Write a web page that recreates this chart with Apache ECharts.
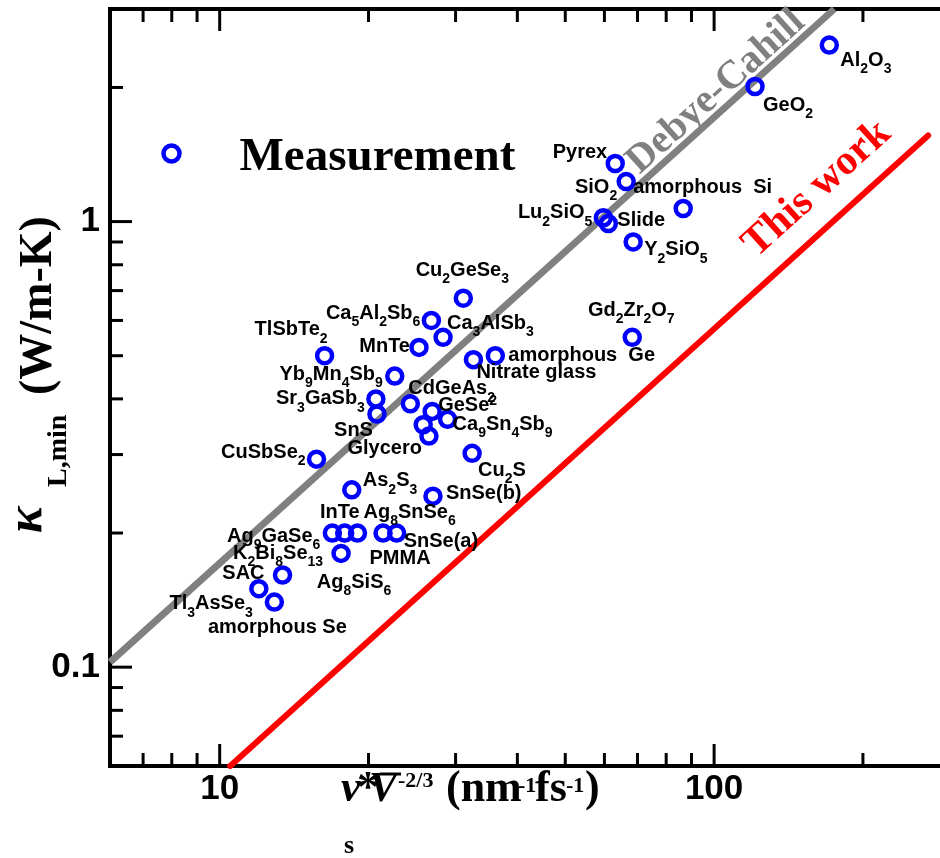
<!DOCTYPE html>
<html>
<head>
<meta charset="utf-8">
<title>Minimum lattice thermal conductivity</title>
<script src="https://cdn.jsdelivr.net/npm/echarts@6.0.0/dist/echarts.min.js"></script>
<style>
    html, body { margin: 0; padding: 0; background: #fff; }
    #chart { width: 940px; height: 858px; }
</style>
</head>
<body>
<div id="chart"></div>
<script>
// sample names: "_n" = subscript, "^n" = superscript, '' = no label
var names = [
    'Al_2O_3', 'GeO_2', 'Pyrex', 'SiO_2', 'amorphous  Si', 'Lu_2SiO_5', 'Slide', 'Y_2SiO_5', 'Gd_2Zr_2O_7',
    'Cu_2GeSe_3', 'Ca_5Al_2Sb_6', 'Ca_3AlSb_3', 'MnTe', 'TlSbTe_2', 'Nitrate glass', 'amorphous  Ge',
    'Yb_9Mn_4Sb_9', 'Sr_3GaSb_3', 'SnS', 'CdGeAs_2', 'GeSe^2', 'Ca_9Sn_4Sb_9', '', 'Glycero',
    'CuSbSe_2', 'Cu_2S', 'As_2S_3', 'SnSe(b)', 'Ag_9GaSe_6', 'InTe', 'Ag_8SnSe_6', 'PMMA', 'SnSe(a)',
    'K_2Bi_8Se_13', 'SAC', 'Tl_3AsSe_3', 'amorphous Se'
];
// v_s * V^-2/3 (nm^-1 fs^-1)
var vs = [
    171, 121, 63.1, 66.4, 86.6, 59.7, 61.1, 68.6, 68.3,
    31.1, 26.8, 28.3, 25.3, 16.3, 32.6, 36.1,
    22.6, 20.7, 20.8, 24.3, 26.9, 28.9, 25.8, 26.5,
    15.7, 32.4, 18.5, 27.0, 16.9, 17.9, 19.0, 21.4, 22.8,
    17.6, 13.4, 12.0, 12.9
];
// kappa_L,min (W/m-K)
var kappa = [
    2.49, 2.01, 1.35, 1.23, 1.07, 1.02, 0.99, 0.90, 0.55,
    0.673, 0.60, 0.55, 0.522, 0.50, 0.49, 0.50,
    0.45, 0.40, 0.37, 0.39, 0.375, 0.36, 0.35, 0.33,
    0.293, 0.302, 0.25, 0.242, 0.20, 0.20, 0.20, 0.20, 0.20,
    0.18, 0.161, 0.150, 0.14
];
// extra label sharing a marker with another sample
var extraLabel = {name: 'Ag_8SiS_6', at: 'K_2Bi_8Se_13'};

var debyeCahill = [[6, 0.1026], [175, 3]];
var thisWork = [[10.5, 0.06], [271, 1.56]];

var xRange = [6, 300];
var yRange = [0.06, 3];
var xMajorTicks = [10, 100];
var xMinorTicks = [7, 8, 9, 20, 30, 40, 50, 60, 70, 80, 90, 200];
var yMajorTicks = [0.1, 1];
var yMinorTicks = [0.07, 0.08, 0.09, 0.2, 0.3, 0.4, 0.5, 0.6, 0.7, 0.8, 0.9, 2];

// label placement: [dx, dy, align] from marker centre
var labelPos = {
    'Al_2O_3': [11, 15, 'left'], 'GeO_2': [8, 19, 'left'], 'Pyrex': [-8, -11, 'right'],
    'SiO_2': [-9, 6, 'right'], 'amorphous  Si': [-50, -21, 'left'], 'Lu_2SiO_5': [-11, -5, 'right'],
    'Slide': [9, -3, 'left'], 'Y_2SiO_5': [11, 8, 'left'], 'Gd_2Zr_2O_7': [-1, -27, 'center'],
    'Cu_2GeSe_3': [-1, -28, 'center'], 'Ca_5Al_2Sb_6': [-11, -7, 'right'], 'Ca_3AlSb_3': [4, -14, 'left'],
    'MnTe': [-9, -1, 'right'], 'TlSbTe_2': [3, -26, 'right'], 'Nitrate glass': [3, 13, 'left'],
    'amorphous  Ge': [13, 0, 'left'], 'Yb_9Mn_4Sb_9': [-12, -2, 'right'], 'Sr_3GaSb_3': [-11, 0, 'right'],
    'SnS': [-4, 17, 'right'], 'CdGeAs_2': [-2, -15, 'left'], 'GeSe^2': [6, -6, 'left'],
    'Ca_9Sn_4Sb_9': [5, 5, 'left'], 'Glycero': [-7, 12, 'right'], 'CuSbSe_2': [-11, -7, 'right'],
    'Cu_2S': [6, 17, 'left'], 'As_2S_3': [11, -9, 'left'], 'SnSe(b)': [13, -3, 'left'],
    'Ag_9GaSe_6': [-12, 3, 'right'], 'InTe': [-5, -21, 'center'], 'Ag_8SnSe_6': [6, -21, 'left'],
    'PMMA': [17, 25, 'center'], 'SnSe(a)': [7, 8, 'left'], 'K_2Bi_8Se_13': [-18, 0, 'right'],
    'SAC': [-18, -2, 'right'], 'Tl_3AsSe_3': [-6, 15, 'right'], 'amorphous Se': [3, 25, 'center'],
    'Ag_8SiS_6': [13, 29, 'center']
};

var SANS = 'Liberation Sans';
var SERIF = 'Liberation Serif';

function toRich(s) {
    return s.replace(/_(\d+)|\^(\d+)|([^_^]+)/g, function (m, sub, sup, txt) {
        if (sub) return '{s|' + sub + '}';
        if (sup) return '{p|' + sup + '}';
        return '{n|' + txt + '}';
    });
}

var richLabel = {
    n: {fontFamily: SANS, fontWeight: 'bold', fontSize: 20, lineHeight: 22, color: '#000'},
    s: {fontFamily: SANS, fontWeight: 'bold', fontSize: 14, lineHeight: 22, color: '#000', padding: [18, 0, 0, 0]},
    p: {fontFamily: SANS, fontWeight: 'bold', fontSize: 14, lineHeight: 22, color: '#000', padding: [0, 0, 8, 0]}
};

function labelOpt(name) {
    var p = labelPos[name];
    return {
        show: true, position: 'inside', offset: [p[0], p[1]], align: p[2],
        verticalAlign: 'middle', formatter: toRich(name), rich: richLabel
    };
}

function logLabel(v) {
    var e = Math.round(Math.log10(v));
    if (Math.abs(Math.log10(v) - e) > 1e-6) return '';
    return e >= 0 ? String(Math.pow(10, e)) : Math.pow(10, e).toFixed(-e);
}

function tickItems() {
    var out = [];
    xMajorTicks.forEach(function (v) { out.push([v, yRange[0], 22, 0], [v, yRange[1], 22, 1]); });
    xMinorTicks.forEach(function (v) { out.push([v, yRange[0], 13, 0], [v, yRange[1], 13, 1]); });
    yMajorTicks.forEach(function (v) { out.push([xRange[0], v, 22, 2]); });
    yMinorTicks.forEach(function (v) { out.push([xRange[0], v, 13, 2]); });
    return out;
}

var scatterData = names.map(function (n, i) {
    var item = {name: n, value: [vs[i], kappa[i]]};
    item.label = n ? labelOpt(n) : {show: false};
    return item;
});
var anchor = names.indexOf(extraLabel.at);

function txt(x, y, text, size, opts) {
    opts = opts || {};
    return {
        type: 'text', x: x, y: y, silent: true,
        style: {
            text: text, fontFamily: SERIF, fontWeight: 'bold', fontSize: size,
            fontStyle: opts.italic ? 'italic' : 'normal', fill: opts.color || '#000',
            align: opts.align || 'left', verticalAlign: 'middle'
        }
    };
}

var chart = echarts.init(document.getElementById('chart'), null, {renderer: 'canvas'});

var option = {
    animation: false,
    backgroundColor: '#fff',
    grid: {
        left: 110, top: 9, right: -10, bottom: 92,
        show: true, borderColor: '#000', borderWidth: 4, backgroundColor: 'transparent',
        containLabel: false, outerBoundsMode: 'none'
    },
    legend: {
        data: ['Measurement'], left: 161, top: 134, padding: 0, itemWidth: 16, itemHeight: 16,
        selectedMode: false,
        itemStyle: {color: 'none', borderColor: '#0000ff', borderWidth: 4.5, opacity: 1},
        formatter: function (name) { return '{g|}{t|' + name + '}'; },
        textStyle: {
            rich: {
                g: {width: 55},
                t: {fontFamily: SERIF, fontWeight: 'bold', fontSize: 47, color: '#000', padding: [8, 0, 0, 0]}
            }
        }
    },
    xAxis: {
        type: 'log', logBase: 10, min: xRange[0], max: xRange[1],
        axisLine: {show: false}, axisTick: {show: false}, splitLine: {show: false},
        minorTick: {show: false}, minorSplitLine: {show: false},
        axisLabel: {
            formatter: logLabel, margin: 6, color: '#000',
            fontFamily: SANS, fontWeight: 'bold', fontSize: 35,
            showMinLabel: false, showMaxLabel: false
        }
    },
    yAxis: {
        type: 'log', logBase: 10, min: yRange[0], max: yRange[1],
        axisLine: {show: false}, axisTick: {show: false}, splitLine: {show: false},
        minorTick: {show: false}, minorSplitLine: {show: false},
        axisLabel: {
            formatter: logLabel, margin: 10, color: '#000',
            fontFamily: SANS, fontWeight: 'bold', fontSize: 35,
            showMinLabel: false, showMaxLabel: false
        }
    },
    series: [
        {
            name: 'Debye-Cahill', type: 'line', data: debyeCahill, symbol: 'none', silent: true,
            lineStyle: {color: '#808080', width: 7, opacity: 1}, z: 2
        },
        {
            name: 'This work', type: 'line', data: thisWork, symbol: 'none', silent: true,
            lineStyle: {color: '#ff0000', width: 6, cap: 'round', opacity: 1}, z: 2
        },
        {
            name: 'Measurement', type: 'scatter', data: scatterData, symbol: 'circle', symbolSize: 15,
            silent: true, z: 3,
            itemStyle: {color: 'none', borderColor: '#0000ff', borderWidth: 4.5, opacity: 1},
            label: {show: false, rich: richLabel},
            markPoint: {
                symbol: 'circle', symbolSize: 0, silent: true,
                data: [{
                    name: extraLabel.name, coord: [vs[anchor], kappa[anchor]],
                    label: labelOpt(extraLabel.name)
                }]
            }
        },
        {
            name: 'ticks', type: 'custom', data: tickItems(), silent: true, z: 5, clip: false,
            encode: {x: 0, y: 1},
            renderItem: function (params, api) {
                var p = api.coord([api.value(0), api.value(1)]);
                var len = api.value(2), dir = api.value(3);
                var x2 = p[0], y2 = p[1];
                if (dir === 0) y2 -= len;
                else if (dir === 1) y2 += len;
                else x2 += len;
                return {
                    type: 'line', shape: {x1: p[0], y1: p[1], x2: x2, y2: y2},
                    style: {stroke: '#000', lineWidth: 3}
                };
            }
        }
    ],
    graphic: [
        // x axis title
        {
            type: 'group', silent: true,
            children: [
                txt(341, 790, 'v', 44, {italic: true}),
                txt(344, 846, 's', 26),
                txt(357, 790, '*', 44),
                txt(369, 790, 'V', 42, {italic: true}),
                {type: 'line', shape: {x1: 380, y1: 774, x2: 401, y2: 774}, style: {stroke: '#000', lineWidth: 3}},
                txt(398, 781, '-2/3', 22),
                txt(446, 790, '(nm', 44),
                txt(518, 786, '-1', 22),
                txt(535, 790, 'fs', 44),
                txt(566, 786, '-1', 22),
                txt(585, 790, ')', 44)
            ]
        },
        // y axis title
        {
            type: 'group', x: 55, y: 533, rotation: Math.PI / 2, silent: true,
            children: [
                txt(0, -27, '\u03ba', 50, {italic: true}),
                txt(46, 3.5, 'L,min', 28),
                txt(138, -15.5, '(W/m-K)', 46)
            ]
        },
        {
            type: 'text', x: 716, y: 92, rotation: 0.733, silent: true,
            style: {
                text: 'Debye-Cahill', fontFamily: SERIF, fontWeight: 'bold', fontSize: 40,
                fill: '#808080', align: 'center', verticalAlign: 'middle'
            }
        },
        {
            type: 'text', x: 817, y: 189, rotation: 0.733, silent: true,
            style: {
                text: 'This work', fontFamily: SERIF, fontWeight: 'bold', fontSize: 42,
                fill: '#ff0000', align: 'center', verticalAlign: 'middle'
            }
        }
    ]
};

chart.setOption(option);
</script>
</body>
</html>
